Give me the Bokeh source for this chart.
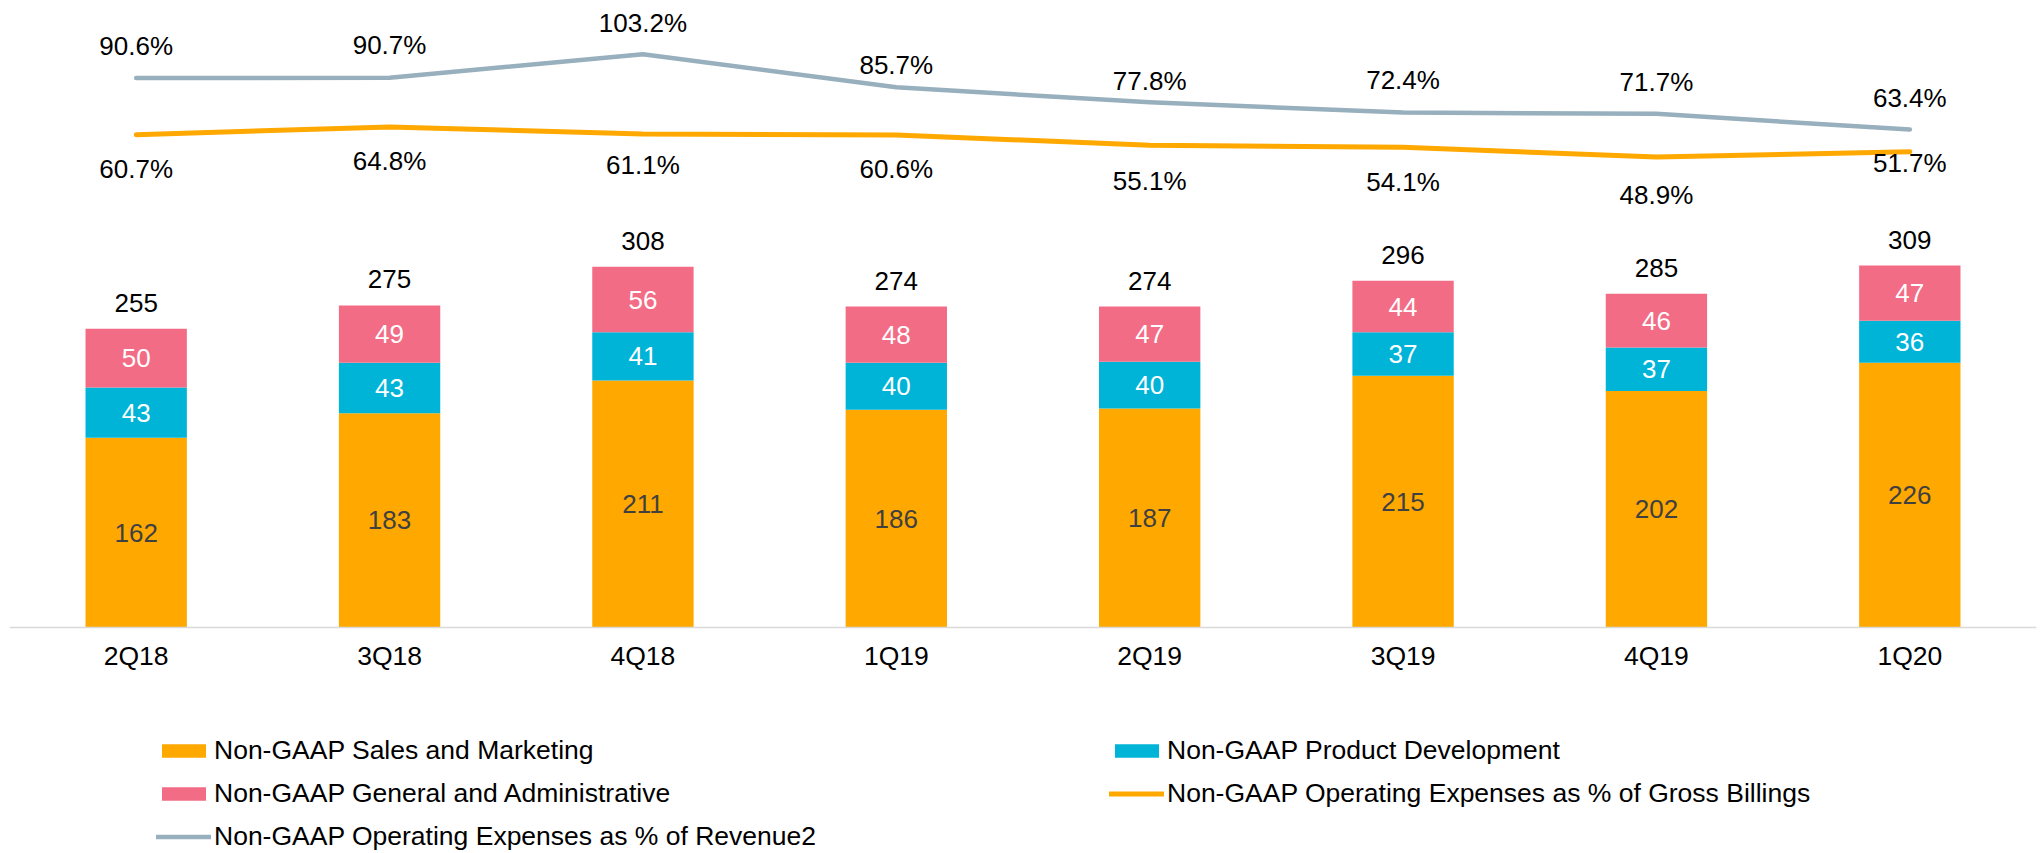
from bokeh.plotting import figure
from bokeh.models import ColumnDataSource, Range1d, FactorRange, Legend, LegendItem
from bokeh.embed import file_html
from bokeh.resources import INLINE
from bokeh.core.properties import value

# ---------------- data ----------------
quarters = ["2Q18", "3Q18", "4Q18", "1Q19", "2Q19", "3Q19", "4Q19", "1Q20"]
sales_marketing = [162, 183, 211, 186, 187, 215, 202, 226]
product_dev = [43, 43, 41, 40, 40, 37, 37, 36]
general_admin = [50, 49, 56, 48, 47, 44, 46, 47]
totals = [255, 275, 308, 274, 274, 296, 285, 309]
pct_revenue = [90.6, 90.7, 103.2, 85.7, 77.8, 72.4, 71.7, 63.4]
pct_billings = [60.7, 64.8, 61.1, 60.6, 55.1, 54.1, 48.9, 51.7]

# ---------------- styles ----------------
ORANGE = "#FFA800"
CYAN = "#00B4D8"
PINK = "#F36C86"
GREY = "#98AFBD"
FONT = "Liberation Sans"
FS = "26px"
FS_AX = "26.5px"
rev_label_offset = [-32, -33, -31, -22, -21, -33, -32, -32]
bill_label_offset = [34, 34, 31, 34, 36, 35, 38, 11]

p = figure(x_range=FactorRange(factors=quarters, range_padding=0),
           y_range=Range1d(-192.9, 535.3),
           width=2040, height=853, output_backend="svg", toolbar_location=None,
           min_border_left=9, min_border_right=4, min_border_top=0, min_border_bottom=0)
p.extra_y_ranges = {"pct": Range1d(-318.5, 131.5)}

bottom_pd = [a for a in sales_marketing]
bottom_ga = [a + b for a, b in zip(sales_marketing, product_dev)]
src = ColumnDataSource(dict(
    q=quarters,
    top_sm=sales_marketing,
    top_pd=[a + b for a, b in zip(bottom_pd, product_dev)],
    bot_pd=bottom_pd,
    top_ga=[a + b for a, b in zip(bottom_ga, general_admin)],
    bot_ga=bottom_ga,
    tot=totals, tot_txt=[str(t) for t in totals],
))

W = 0.4
r_sm = p.vbar(x="q", bottom=0, top="top_sm", width=W, source=src, fill_color=ORANGE, line_color=None)
r_pd = p.vbar(x="q", bottom="bot_pd", top="top_pd", width=W, source=src, fill_color=CYAN, line_color=None)
r_ga = p.vbar(x="q", bottom="bot_ga", top="top_ga", width=W, source=src, fill_color=PINK, line_color=None)

# segment labels
seg_x, seg_y, seg_t, seg_c = [], [], [], []
for i, q in enumerate(quarters):
    seg_x += [q, q, q]
    seg_y += [sales_marketing[i] / 2,
              sales_marketing[i] + product_dev[i] / 2,
              sales_marketing[i] + product_dev[i] + general_admin[i] / 2]
    seg_t += [str(sales_marketing[i]), str(product_dev[i]), str(general_admin[i])]
    seg_c += ["#404040", "#FFFFFF", "#FFFFFF"]
seg_src = ColumnDataSource(dict(x=seg_x, y=seg_y, t=seg_t, c=seg_c))
p.text(x="x", y="y", text="t", text_color="c", source=seg_src, text_align="center",
       text_baseline="middle", text_font=value(FONT), text_font_size=FS)

p.text(x="q", y="tot", text="tot_txt", source=src, y_offset=-26, text_align="center",
       text_baseline="middle", text_font=value(FONT), text_font_size=FS, text_color="#000000")

# lines
lsrc = ColumnDataSource(dict(
    q=quarters, rev=pct_revenue, bill=pct_billings,
    rev_t=[f"{v:.1f}%" for v in pct_revenue], bill_t=[f"{v:.1f}%" for v in pct_billings],
    rev_o=rev_label_offset, bill_o=bill_label_offset))
r_bill = p.line(x="q", y="bill", source=lsrc, y_range_name="pct", line_color=ORANGE,
                line_width=5, line_cap="round", line_join="round")
r_rev = p.line(x="q", y="rev", source=lsrc, y_range_name="pct", line_color=GREY,
               line_width=4.5, line_cap="round", line_join="round")
p.text(x="q", y="rev", text="rev_t", y_offset="rev_o", source=lsrc, y_range_name="pct",
       text_align="center", text_baseline="middle", text_font=value(FONT),
       text_font_size=FS, text_color="#000000")
p.text(x="q", y="bill", text="bill_t", y_offset="bill_o", source=lsrc, y_range_name="pct",
       text_align="center", text_baseline="middle", text_font=value(FONT),
       text_font_size=FS, text_color="#000000")

# axes / grid
p.yaxis.visible = False
p.xgrid.visible = False
p.ygrid.visible = False
p.outline_line_color = None
xa = p.xaxis[0]
xa.fixed_location = 0
xa.axis_line_color = "#D9D9D9"
xa.axis_line_width = 1.5
xa.major_tick_line_color = None
xa.minor_tick_line_color = None
xa.major_tick_out = 0
xa.major_tick_in = 0
xa.major_label_text_font = FONT
xa.major_label_text_font_size = FS_AX
xa.major_label_text_color = "#000000"
xa.major_label_standoff = 13

legend = Legend(items=[
    LegendItem(label="Non-GAAP Sales and Marketing", renderers=[r_sm]),
    LegendItem(label="Non-GAAP Product Development", renderers=[r_pd]),
    LegendItem(label="Non-GAAP General and Administrative", renderers=[r_ga]),
    LegendItem(label="Non-GAAP Operating Expenses as % of Gross Billings", renderers=[r_bill]),
    LegendItem(label="Non-GAAP Operating Expenses as % of Revenue2", renderers=[r_rev]),
], location=(147, 1), orientation="horizontal", ncols=2,
    glyph_width=55, glyph_height=17, label_standoff=3, label_width=883, label_height=30,
    spacing=12, padding=0, margin=0, border_line_color=None, background_fill_alpha=0,
    label_text_font=FONT, label_text_font_size=FS_AX, label_text_color="#000000")
p.add_layout(legend, "center")

open("out.html", "w").write(file_html(p, INLINE))
